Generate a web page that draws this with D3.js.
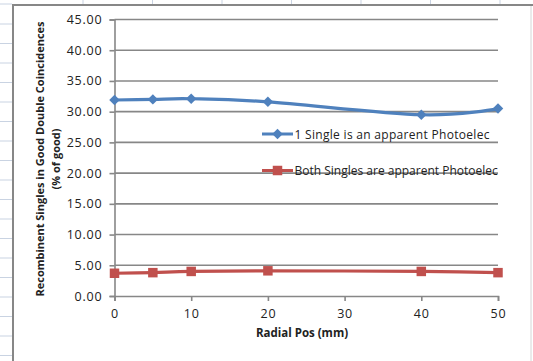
<!DOCTYPE html>
<html>
<head>
<meta charset="utf-8">
<script src="https://cdn.jsdelivr.net/npm/d3@7"></script>
<style>
  html, body { margin: 0; padding: 0; background: #fff; }
  svg { display: block; }
</style>
</head>
<body>
<svg id="chart" width="533" height="361"></svg>
<script>
// Radial positions (mm)
const radialPos = [0, 5, 10, 20, 40, 50];
// Recombinent singles as % of good double coincidences
const oneSinglePhoto = [31.9, 32.0, 32.1, 31.6, 29.5, 30.5];
const bothSinglesPhoto = [3.7, 3.8, 4.0, 4.1, 4.0, 3.8];
const seriesNames = ["1 Single is an apparent Photoelec", "Both Singles are apparent Photoelec"];
const yTicks = [0, 5, 10, 15, 20, 25, 30, 35, 40, 45];
const xTicks = [0, 10, 20, 30, 40, 50];

const svg = d3.select("#chart");
const W = 533, H = 361;

// worksheet cell lines showing around the chart object
const sheet = svg.append("g");
d3.range(24, H, 19.5).forEach(y => {
  sheet.append("line").attr("x1", 0).attr("x2", 12).attr("y1", y).attr("y2", y)
    .attr("stroke", "#c9d3e2").attr("stroke-width", 1);
});
d3.range(83, W, 69.5).forEach(x => {
  sheet.append("line").attr("x1", x).attr("x2", x).attr("y1", 0).attr("y2", 4)
    .attr("stroke", "#c9d3e2").attr("stroke-width", 1);
});
sheet.append("line").attr("x1", 0).attr("x2", 12).attr("y1", 4).attr("y2", 4)
  .attr("stroke", "#c9d3e2");

// chart frame
svg.append("line").attr("x1", 13).attr("x2", 13).attr("y1", 4).attr("y2", H)
  .attr("stroke", "#878787").attr("stroke-width", 2);
svg.append("line").attr("x1", 12).attr("x2", W).attr("y1", 5).attr("y2", 5)
  .attr("stroke", "#878787").attr("stroke-width", 2);
svg.append("line").attr("x1", 531).attr("x2", 531).attr("y1", 6).attr("y2", H)
  .attr("stroke", "#d6d6d6").attr("stroke-width", 1);

const x = d3.scaleLinear().domain([0, 50]).range([114.5, 498]);
const y = d3.scaleLinear().domain([0, 45]).range([296, 19.5]);

const gridColor = "#878787";
const font = "'Open Sans', 'Noto Sans', sans-serif";

// horizontal gridlines
svg.append("g").selectAll("line").data(yTicks.filter(d => d > 0)).join("line")
  .attr("x1", x(0)).attr("x2", x(50))
  .attr("y1", d => y(d)).attr("y2", d => y(d))
  .attr("stroke", gridColor).attr("stroke-width", 1.6);

// y axis
const yAxis = svg.append("g").attr("transform", `translate(${x(0)},0)`)
  .call(d3.axisLeft(y).tickValues(yTicks).tickFormat(d3.format(".2f")).tickSize(5).tickPadding(7));
yAxis.select(".domain").attr("stroke", gridColor).attr("stroke-width", 1.6);
yAxis.selectAll(".tick line").attr("stroke", gridColor).attr("stroke-width", 1.6);
yAxis.selectAll("text").attr("font-family", font).attr("font-size", 12.5).attr("fill", "#222")
  .attr("letter-spacing", 0.8);

// x axis
const xAxis = svg.append("g").attr("transform", `translate(0,${y(0)})`)
  .call(d3.axisBottom(x).tickValues(xTicks).tickSize(5).tickPadding(8));
xAxis.select(".domain").attr("stroke", gridColor).attr("stroke-width", 1.6);
xAxis.selectAll(".tick line").attr("stroke", gridColor).attr("stroke-width", 1.6);
xAxis.selectAll("text").attr("font-family", font).attr("font-size", 12.5).attr("fill", "#222")
  .attr("letter-spacing", 0.8);

// axis titles
svg.append("text").attr("x", 302).attr("y", 337).attr("text-anchor", "middle")
  .attr("font-family", font).attr("font-size", 11.5).attr("font-weight", "bold").attr("fill", "#222")
  .text("Radial Pos (mm)");
const yTitle = svg.append("text").attr("transform", "translate(44,159) rotate(-90)")
  .attr("text-anchor", "middle").attr("font-family", font).attr("font-size", 11)
  .attr("font-weight", "bold").attr("fill", "#222");
yTitle.append("tspan").attr("x", 0).attr("y", 0)
  .attr("textLength", 275).attr("lengthAdjust", "spacingAndGlyphs")
  .text("Recombinent Singles in Good Double Coincidences");
yTitle.append("tspan").attr("x", 0).attr("y", 15.5).text("(% of good)");

const blue = "#4f81bd", red = "#c0504d";
const line = d3.line().x(d => x(d[0])).y(d => y(d[1])).curve(d3.curveCatmullRom.alpha(0));

const s1 = radialPos.map((r, i) => [r, oneSinglePhoto[i]]);
const s2 = radialPos.map((r, i) => [r, bothSinglesPhoto[i]]);

const diamond = d3.symbol().type(d3.symbolDiamond2).size(70);
const square = d3.symbol().type(d3.symbolSquare).size(90);

svg.append("path").datum(s1).attr("d", line).attr("fill", "none")
  .attr("stroke", blue).attr("stroke-width", 3.2);
svg.append("g").selectAll("path").data(s1).join("path")
  .attr("transform", d => `translate(${x(d[0])},${y(d[1])})`)
  .attr("d", diamond).attr("fill", blue);

svg.append("path").datum(s2).attr("d", line).attr("fill", "none")
  .attr("stroke", red).attr("stroke-width", 3.2);
svg.append("g").selectAll("path").data(s2).join("path")
  .attr("transform", d => `translate(${x(d[0])},${y(d[1])})`)
  .attr("d", square).attr("fill", red);

// legend
const legend = svg.append("g");
const legendRows = [
  { name: seriesNames[0], color: blue, sym: diamond, y: 134, spacing: 0.3 },
  { name: seriesNames[1], color: red, sym: square, y: 170.5, spacing: 0 }
];
legendRows.forEach(r => {
  legend.append("line").attr("x1", 262).attr("x2", 293).attr("y1", r.y).attr("y2", r.y)
    .attr("stroke", r.color).attr("stroke-width", 3);
  legend.append("path").attr("transform", `translate(277.5,${r.y})`).attr("d", r.sym).attr("fill", r.color);
  legend.append("text").attr("x", 294.5).attr("y", r.y + 4.5).attr("font-family", font)
    .attr("font-size", 12).attr("letter-spacing", r.spacing).attr("fill", "#222").text(r.name);
});
</script>
</body>
</html>
